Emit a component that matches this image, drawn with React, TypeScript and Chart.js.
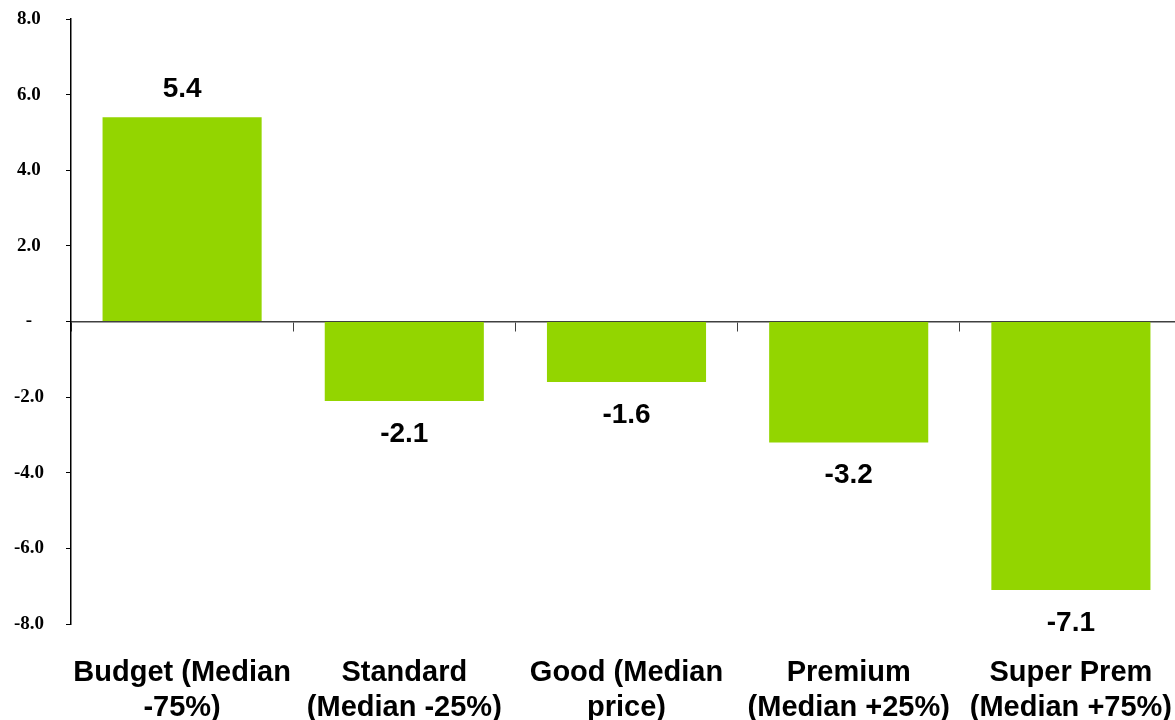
import React, { useEffect, useRef } from "react";
import { Chart, registerables } from "chart.js";

Chart.register(...registerables);

const categories: string[][] = [
  ["Budget (Median", "-75%)"],
  ["Standard", "(Median -25%)"],
  ["Good (Median", "price)"],
  ["Premium", "(Median +25%)"],
  ["Super Prem", "(Median +75%)"],
];
const values: number[] = [5.4, -2.1, -1.6, -3.2, -7.1];
const yMin = -8;
const yMax = 8;
const yStep = 2;

const barColor = "#93d500";
const sansFont = "'Liberation Sans', Arial, sans-serif";
const serifFont = "'Liberation Serif', 'Times New Roman', serif";

const valueLabelPlugin = {
  id: "valueLabels",
  afterDatasetsDraw(chart: any) {
    const ctx = chart.ctx;
    const meta = chart.getDatasetMeta(0);
    const data = chart.data.datasets[0].data as number[];
    ctx.save();
    ctx.font = `bold 28px ${sansFont}`;
    ctx.fillStyle = "#000";
    ctx.textAlign = "center";
    ctx.textBaseline = "middle";
    meta.data.forEach((el: any, i: number) => {
      const v = data[i];
      const y = v >= 0 ? el.y - 28 : el.y + 33;
      ctx.fillText(v.toFixed(1), el.x, y);
    });
    ctx.restore();
  },
};

export default function App() {
  const ref = useRef<HTMLCanvasElement | null>(null);
  useEffect(() => {
    if (!ref.current) return;
    const chart = new Chart(ref.current, {
      type: "bar",
      data: {
        labels: categories,
        datasets: [
          {
            data: values,
            backgroundColor: barColor,
            borderWidth: 0,
            categoryPercentage: 1,
            barPercentage: 0.716,
          },
        ],
      },
      options: {
        responsive: false,
        animation: false,
        layout: { padding: { top: 19, right: 8, left: 0, bottom: 0 } },
        plugins: {
          legend: { display: false },
          tooltip: { enabled: false },
        },
        scales: {
          x: {
            type: "category",
            position: "bottom",
            grid: { display: false, drawTicks: false },
            border: { display: false },
            ticks: {
              padding: 31,
              maxRotation: 0,
              autoSkip: false,
              color: "#000",
              font: { family: sansFont, size: 29, weight: "bold", lineHeight: 35 / 29 },
            },
            afterFit(scale: any) {
              scale.height = 96;
              scale.paddingLeft = 0;
              scale.paddingRight = 0;
            },
          },
          x2: {
            type: "category",
            position: { y: 0 },
            offset: true,
            grid: {
              offset: true,
              drawOnChartArea: false,
              drawTicks: true,
              tickLength: 9,
              color: "#404040",
              lineWidth: 1,
            },
            border: { display: true, color: "#404040", width: 1.5 },
            ticks: { display: false },
          } as any,
          y: {
            min: yMin,
            max: yMax,
            ticks: {
              stepSize: yStep,
              padding: 22,
              crossAlign: "center",
              color: "#000",
              font: { family: serifFont, size: 19, weight: "bold" },
              callback: (v: any) => (Number(v) === 0 ? "-" : Number(v).toFixed(1)),
            },
            grid: {
              drawOnChartArea: false,
              drawTicks: true,
              tickLength: 5,
              color: "#000",
              lineWidth: 1,
            },
            border: { display: true, color: "#000", width: 1.5 },
            afterFit(scale: any) {
              scale.width = 71;
              scale.paddingTop = 0;
              scale.paddingBottom = 0;
            },
          },
        },
      },
      plugins: [valueLabelPlugin],
    });
    return () => chart.destroy();
  }, []);
  return (
    <div
      style={{
        position: "fixed",
        left: 0,
        top: 0,
        width: 1175,
        height: 720,
        overflow: "hidden",
        background: "#fff",
      }}
    >
      <canvas ref={ref} width={1190} height={720} style={{ display: "block" }} />
    </div>
  );
}
